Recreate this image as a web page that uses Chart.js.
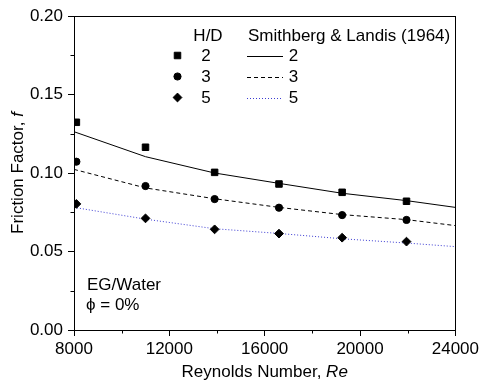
<!DOCTYPE html>
<html><head><meta charset="utf-8">
<script src="https://cdn.jsdelivr.net/npm/chart.js@4.4.1/dist/chart.umd.min.js"></script>
<style>html,body{margin:0;padding:0;background:#fff}</style>
</head><body>
<canvas id="c" width="482" height="388"></canvas>
<script>
// ---- data ----
const reExp = [8100, 11000, 13900, 16600, 19250, 21950];
const fHD2 = [0.1323, 0.1164, 0.1004, 0.0930, 0.0877, 0.0820];
const fHD3 = [0.1072, 0.0917, 0.0834, 0.0779, 0.0732, 0.0701];
const fHD5 = [0.0803, 0.0711, 0.0641, 0.0614, 0.0588, 0.0563];

const reCorr = [8000, 11000, 13900, 16600, 19250, 21950, 24000];
const slHD2 = [0.1263, 0.1104, 0.1000, 0.0934, 0.0871, 0.0824, 0.0781];
const slHD3 = [0.1023, 0.0905, 0.0836, 0.0781, 0.0735, 0.0703, 0.0665];
const slHD5 = [0.0781, 0.0706, 0.0645, 0.0615, 0.0581, 0.0554, 0.0531];

const xTicks = [8000, 12000, 16000, 20000, 24000];
const yTicks = [0.00, 0.05, 0.10, 0.15, 0.20];
const xMinor = [10000, 14000, 18000, 22000];
const yMinor = [0.025, 0.075, 0.125, 0.175];
const hdLabels = ['2', '3', '5'];

const FONT = "'Liberation Sans', Arial, sans-serif";
const FS = 17;
const BLUE = '#3c3cd2';

const pts = (xs, ys) => xs.map((x, i) => ({x, y: ys[i]}));

// draw a title made of [text, italic] runs, centred at (cx, cy)
function drawRuns(ctx, runs, cx, cy, rot) {
  ctx.save();
  ctx.translate(cx, cy);
  if (rot) ctx.rotate(rot);
  const fonts = runs.map(r => (r[1] ? 'italic ' : '') + FS + 'px ' + FONT);
  let total = 0;
  const widths = runs.map((r, i) => { ctx.font = fonts[i]; const w = ctx.measureText(r[0]).width; total += w; return w; });
  let x = -total / 2;
  ctx.textAlign = 'left';
  ctx.textBaseline = 'middle';
  ctx.fillStyle = '#000';
  runs.forEach((r, i) => { ctx.font = fonts[i]; ctx.fillText(r[0], x, 0); x += widths[i]; });
  ctx.restore();
}

const framePlugin = {
  id: 'frame',
  afterDraw(chart) {
    const {ctx, chartArea: a, scales} = chart;
    ctx.save();
    ctx.strokeStyle = '#000';
    ctx.lineWidth = 1;
    ctx.strokeRect(Math.round(a.left) + 0.5, Math.round(a.top) + 0.5, Math.round(a.right - a.left), Math.round(a.bottom - a.top));
    // minor ticks
    ctx.beginPath();
    xMinor.forEach(v => {
      const px = Math.round(scales.x.getPixelForValue(v)) + 0.5;
      ctx.moveTo(px, a.bottom); ctx.lineTo(px, a.bottom + 3.5);
    });
    yMinor.forEach(v => {
      const py = Math.round(scales.y.getPixelForValue(v)) + 0.5;
      ctx.moveTo(a.left, py); ctx.lineTo(a.left - 3.5, py);
    });
    ctx.stroke();
    ctx.restore();
    // axis titles
    drawRuns(ctx, [['Reynolds Number, ', false], ['Re', true]], (a.left + a.right) / 2, 372, 0);
    drawRuns(ctx, [['Friction Factor, ', false], ['f', true]], 18.5, (a.top + a.bottom) / 2, -Math.PI / 2);
  }
};

const legendPlugin = {
  id: 'customLegend',
  afterDraw(chart) {
    const {ctx} = chart;
    ctx.save();
    ctx.fillStyle = '#000';
    ctx.font = FS + 'px ' + FONT;
    ctx.textBaseline = 'middle';
    ctx.textAlign = 'center';
    ctx.fillText('H/D', 208, 36);
    ctx.textAlign = 'left';
    ctx.fillText('Smithberg & Landis (1964)', 248, 36);
    const rows = [55.5, 76.5, 97.5];
    const styles = [['rect', 4.6], ['circle', 3.6], ['rectRot', 4.4]];
    const lineStyles = [[[], '#000'], [[4, 3], '#000'], [[1, 2], BLUE]];
    rows.forEach((y, i) => {
      ctx.fillStyle = '#000';
      ctx.strokeStyle = '#000';
      ctx.lineWidth = 1;
      Chart.helpers.drawPoint(ctx, {pointStyle: styles[i][0], radius: styles[i][1], borderWidth: 1, rotation: 0}, 177.5, y);
      ctx.fillStyle = '#000';
      ctx.textAlign = 'center';
      ctx.fillText(hdLabels[i], 206, y + 0.5);
      ctx.beginPath();
      ctx.setLineDash(lineStyles[i][0]);
      ctx.strokeStyle = lineStyles[i][1];
      ctx.moveTo(247, Math.round(y) + 0.5);
      ctx.lineTo(283, Math.round(y) + 0.5);
      ctx.stroke();
      ctx.setLineDash([]);
      ctx.fillText(hdLabels[i], 293.5, y + 0.5);
    });
    // annotation
    ctx.textAlign = 'left';
    ctx.fillText('EG/Water', 87, 285);
    ctx.fillText('\u03D5 = 0%', 86, 305);
    ctx.restore();
  }
};

new Chart(document.getElementById('c'), {
  type: 'scatter',
  data: {
    datasets: [
      {label: 'H/D 2', data: pts(reExp, fHD2), pointStyle: 'rect', pointRadius: 4.6, backgroundColor: '#000', borderColor: '#000', borderWidth: 1, showLine: false},
      {label: 'H/D 3', data: pts(reExp, fHD3), pointStyle: 'circle', pointRadius: 3.6, backgroundColor: '#000', borderColor: '#000', borderWidth: 1, showLine: false},
      {label: 'H/D 5', data: pts(reExp, fHD5), pointStyle: 'rectRot', pointRadius: 4.4, backgroundColor: '#000', borderColor: '#000', borderWidth: 1, showLine: false},
      {label: 'S&L 2', data: pts(reCorr, slHD2), showLine: true, pointRadius: 0, borderColor: '#000', borderWidth: 1, fill: false},
      {label: 'S&L 3', data: pts(reCorr, slHD3), showLine: true, pointRadius: 0, borderColor: '#000', borderWidth: 1, borderDash: [4, 3], fill: false},
      {label: 'S&L 5', data: pts(reCorr, slHD5), showLine: true, pointRadius: 0, borderColor: BLUE, borderWidth: 1, borderDash: [1, 2], fill: false}
    ]
  },
  options: {
    responsive: false,
    animation: false,
    devicePixelRatio: 1,
    layout: {padding: {top: 16, right: 23, left: 0, bottom: 0}},
    plugins: {legend: {display: false}, tooltip: {enabled: false}},
    scales: {
      x: {
        type: 'linear', min: 8000, max: 24000,
        afterBuildTicks: s => { s.ticks = xTicks.map(v => ({value: v})); },
        afterFit: s => { s.height = 58; },
        ticks: {color: '#000', font: {family: FONT, size: FS}, padding: 3, maxRotation: 0, callback: v => String(v)},
        grid: {drawOnChartArea: false, tickLength: 6, tickColor: '#000'},
        border: {color: '#000', width: 1},
        title: {display: false}
      },
      y: {
        type: 'linear', min: 0, max: 0.2,
        afterBuildTicks: s => { s.ticks = yTicks.map(v => ({value: v})); },
        afterFit: s => { s.width = 74; },
        ticks: {color: '#000', font: {family: FONT, size: FS}, padding: 5, callback: v => v.toFixed(2)},
        grid: {drawOnChartArea: false, tickLength: 6, tickColor: '#000'},
        border: {color: '#000', width: 1},
        title: {display: false}
      }
    }
  },
  plugins: [framePlugin, legendPlugin]
});
</script>
</body></html>
